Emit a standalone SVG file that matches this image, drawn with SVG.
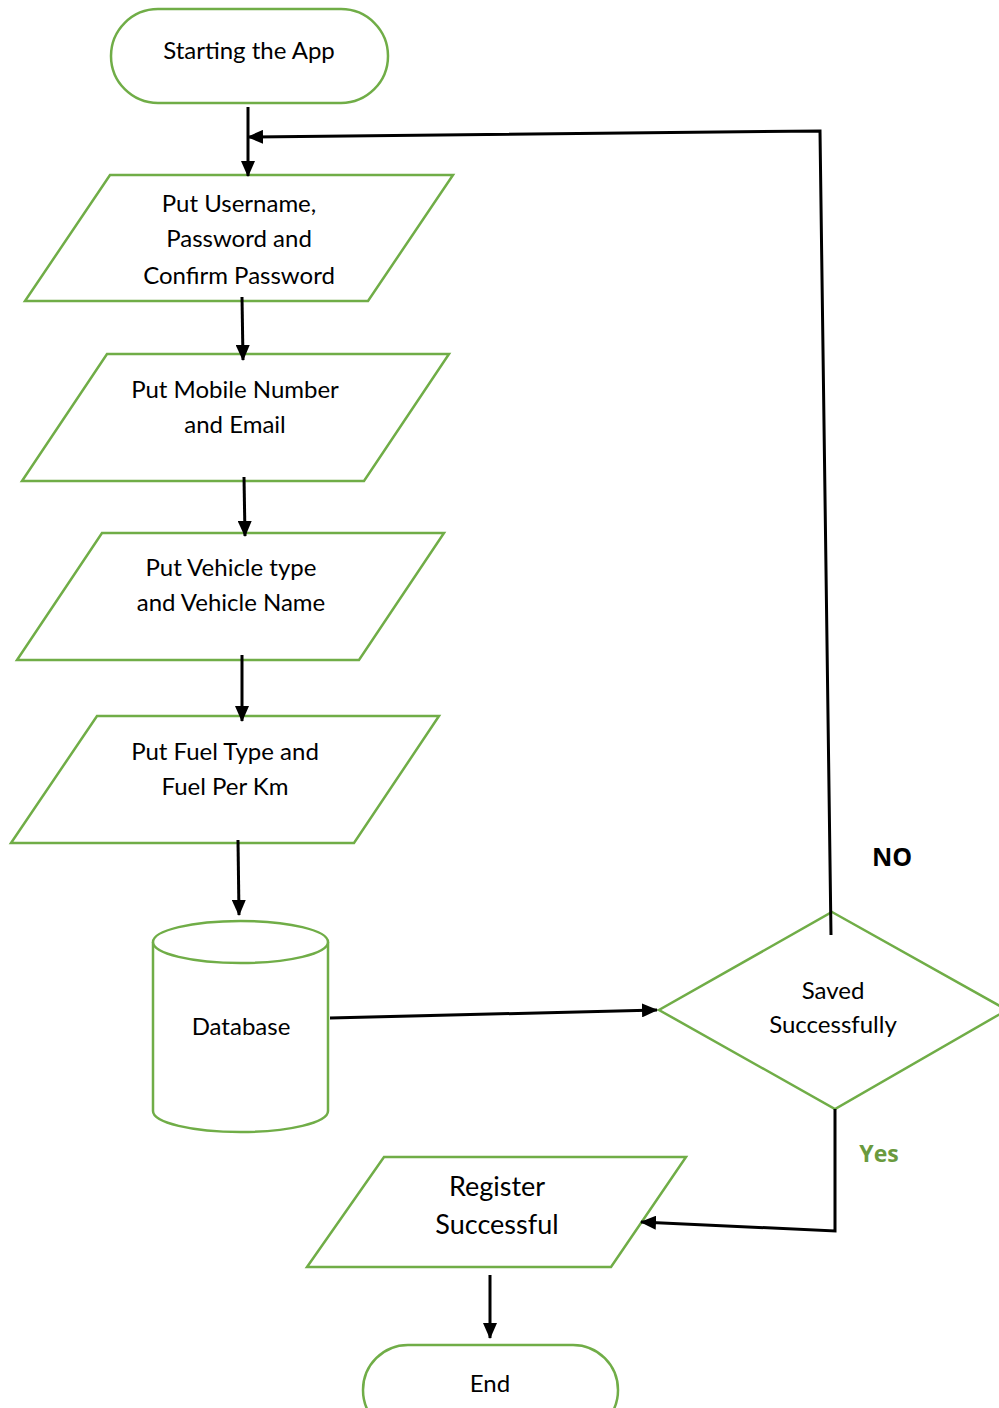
<svg xmlns="http://www.w3.org/2000/svg" width="999" height="1408" viewBox="0 0 999 1408">
<style>
.s{fill:#fff;stroke:#70AD47;stroke-width:2.5}
.t{font-family:Lato,"Open Sans",sans-serif;font-size:24px;fill:#000;text-anchor:middle}
.c{fill:none;stroke:#000;stroke-width:3}
</style>
<defs>
<marker id="a" markerUnits="userSpaceOnUse" markerWidth="16" markerHeight="14" refX="15" refY="7" orient="auto">
<path d="M0,0 L16,7 L0,14 Z" fill="#000"/>
</marker>
</defs>
<rect width="999" height="1408" fill="#fff"/>
<g id="start">
<rect class="s" x="111" y="9" width="277" height="94" rx="47"/>
<text class="t" x="249" y="59">Starting the App</text>
</g>
<g id="p1">
<polygon class="s" points="110,175 453,175 368,301 25,301"/>
<text class="t" x="239" y="212">Put Username,</text>
<text class="t" x="239" y="247">Password and</text>
<text class="t" x="239" y="284">Confirm Password</text>
</g>
<g id="p2">
<polygon class="s" points="107,354 449,354 364,481 22,481"/>
<text class="t" x="235" y="398">Put Mobile Number</text>
<text class="t" x="235" y="433">and Email</text>
</g>
<g id="p3">
<polygon class="s" points="102,533 444,533 359,660 17,660"/>
<text class="t" x="231" y="576">Put Vehicle type</text>
<text class="t" x="231" y="611">and Vehicle Name</text>
</g>
<g id="p4">
<polygon class="s" points="97,716 439,716 354,843 11,843"/>
<text class="t" x="225" y="760">Put Fuel Type and</text>
<text class="t" x="225" y="795">Fuel Per Km</text>
</g>
<g id="db">
<path class="s" d="M153,942 L153,1111 A87.5,21 0 0 0 328,1111 L328,942"/>
<ellipse class="s" cx="240.5" cy="942" rx="87.5" ry="21"/>
<text class="t" x="241" y="1035">Database</text>
</g>
<g id="decision">
<polygon class="s" points="832,912 1007,1010 835,1109 659,1010"/>
<text class="t" x="833" y="999">Saved</text>
<text class="t" x="833" y="1033">Successfully</text>
</g>
<g id="register">
<polygon class="s" points="384,1157 686,1157 611,1267 307,1267"/>
<text class="t" x="497" y="1196" style="font-size:27px">Register</text>
<text class="t" x="497" y="1234" style="font-size:27px">Successful</text>
</g>
<g id="end">
<rect class="s" x="363" y="1345" width="255" height="90" rx="45"/>
<text class="t" x="490" y="1392">End</text>
</g>
<g id="connectors">
<line class="c" x1="248" y1="107" x2="248" y2="176" marker-end="url(#a)"/>
<polyline class="c" points="831,935 820,131 248,137" marker-end="url(#a)"/>
<line class="c" x1="242" y1="297" x2="243" y2="360" marker-end="url(#a)"/>
<line class="c" x1="244" y1="477" x2="245" y2="536" marker-end="url(#a)"/>
<line class="c" x1="242" y1="655" x2="242" y2="721" marker-end="url(#a)"/>
<line class="c" x1="238" y1="840" x2="239" y2="915" marker-end="url(#a)"/>
<line class="c" x1="330" y1="1018" x2="657" y2="1010" marker-end="url(#a)"/>
<polyline class="c" points="835,1109 835,1231 641,1222" marker-end="url(#a)"/>
<line class="c" x1="490" y1="1275" x2="490" y2="1338" marker-end="url(#a)"/>
</g>
<text x="892" y="866" style="font-family:'Open Sans','Noto Sans',sans-serif;font-size:25px;font-weight:bold;fill:#000" text-anchor="middle">NO</text>
<text x="879" y="1162" style="font-family:'Open Sans','Noto Sans',sans-serif;font-size:23px;font-weight:bold;fill:#6A9A3E" text-anchor="middle">Yes</text>
</svg>
